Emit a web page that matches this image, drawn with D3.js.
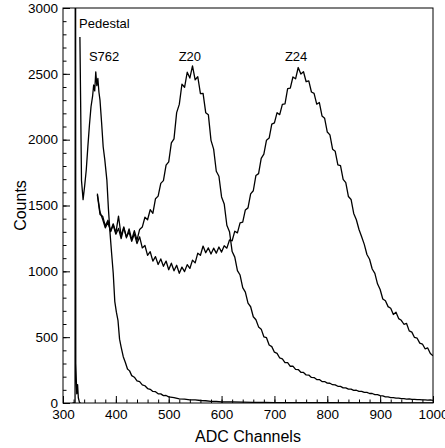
<!DOCTYPE html>
<html>
<head>
<meta charset="utf-8">
<script src="https://cdn.jsdelivr.net/npm/d3@7"></script>
<style>
  body { margin: 0; background: #fff; }
  svg { display: block; font-family: "Liberation Sans", Arial, Helvetica, sans-serif; }
</style>
</head>
<body>
<div id="chart"></div>
<script>
// pic du piedestal
const canauxPied = [318, 322.8, 323.5, 324.2, 326, 327.6, 329, 331, 333];
const comptesPied = [0, 0, 6000, 300, 70, 140, 40, 6, 0];

// S762 (canaux irreguliers)
const canauxS762 = [332, 335, 338, 341, 344, 347, 350, 353, 356, 358, 360, 362, 364, 366, 368, 370,
    373, 376, 379, 383, 386, 389, 392, 395, 398, 401, 404, 407, 410, 414, 418, 422, 426, 430, 435,
    440, 445, 450, 455, 460, 465, 470, 475, 480, 485, 490, 495, 500, 510, 520, 530, 540, 550, 560,
    570, 580, 590, 600, 620, 640, 660, 680, 700, 750, 800, 900, 1000];
const comptesS762 = [2780, 1690, 1545, 1650, 1770, 1945, 2110, 2250, 2330, 2415, 2370, 2515, 2410, 2465, 2360, 2300,
    2130, 1946, 1850, 1693, 1470, 1290, 1135, 987, 770, 690, 628, 485, 425, 352, 308, 258, 244, 208, 196,
    168, 162, 138, 131, 110, 104, 88, 86, 70, 69, 56, 57, 46, 41, 32, 30, 24, 23, 19,
    17, 13, 12, 9, 8, 6, 5, 4, 3, 2, 2, 1, 1];

// Z20 et Z24 : histogrammes a pas fixe
const premierCanal = 365;
const pasCanal = 5;
const comptesZ20 = [1590, 1450, 1395, 1330, 1372, 1305, 1361, 1292, 1420, 1268, 1338, 1255, 1322, 1240, 1309, 1236,
    1318, 1336, 1411, 1392, 1468, 1441, 1552, 1571, 1668, 1689, 1806, 1832, 1975, 2006, 2205, 2268,
    2421, 2398, 2512, 2468, 2560, 2455, 2478, 2350, 2352, 2205, 2190, 1995, 1928, 1760, 1722, 1565,
    1512, 1350, 1301, 1150, 1108, 1005, 972, 876, 842, 758, 731, 655, 632, 578, 561, 503,
    496, 440, 428, 386, 377, 342, 336, 307, 306, 279, 280, 256, 254, 233, 232, 213,
    212, 194, 193, 178, 178, 163, 163, 151, 150, 139, 138, 127, 126, 115, 115, 105,
    105, 96, 97, 88, 88, 80, 80, 72, 72, 64, 63, 56, 54, 47, 46, 41,
    41, 37, 37, 33, 33, 30, 31, 27, 28, 25, 26, 23, 24, 22, 23, 20];
const comptesZ24 = [1580, 1432, 1418, 1345, 1388, 1301, 1352, 1282, 1326, 1248, 1330, 1262, 1298, 1228, 1285, 1211,
    1262, 1178, 1196, 1121, 1149, 1078, 1112, 1052, 1094, 1038, 1078, 1012, 1062, 1004, 1046, 985,
    1032, 998, 1051, 1022, 1085, 1064, 1138, 1122, 1192, 1141, 1178, 1132, 1176, 1138, 1185, 1146,
    1194, 1176, 1238, 1232, 1305, 1292, 1368, 1374, 1466, 1482, 1588, 1612, 1728, 1742, 1858, 1890,
    1996, 2012, 2118, 2128, 2205, 2190, 2268, 2272, 2388, 2392, 2476, 2462, 2548, 2498, 2516, 2440,
    2446, 2362, 2352, 2270, 2282, 2180, 2162, 2058, 2036, 1928, 1912, 1808, 1802, 1698, 1674, 1568,
    1546, 1440, 1392, 1318, 1262, 1205, 1128, 1092, 1018, 984, 905, 862, 790, 776, 732, 720,
    672, 690, 641, 628, 598, 604, 548, 538, 498, 492, 455, 448, 412, 418, 376, 358];

// etiquettes des pics (canal, comptes)
const etiquettes = [
    {texte: "Pedestal", canal: 330.5, comptes: 2848, ancre: "start"},
    {texte: "S762", canal: 349, comptes: 2597, ancre: "start"},
    {texte: "Z20", canal: 540, comptes: 2597, ancre: "middle"},
    {texte: "Z24", canal: 741, comptes: 2600, ancre: "middle"}
];
const ticksY = [0, 500, 1000, 1500, 2000, 2500, 3000];
const ticksX = [300, 400, 500, 600, 700, 800, 900, 1000];

function dessiner() {
    const width = 445;
    const height = 448;
    const marginLeft = 63, marginRight = 12, marginTop = 8, marginBottom = 45;

    const x = d3.scaleLinear().domain([300, 1000]).range([marginLeft, width - marginRight]);
    const y = d3.scaleLinear().domain([0, 3000]).range([height - marginBottom, marginTop]);

    const svg = d3.select("#chart").append("svg")
        .attr("width", width)
        .attr("height", height);

    svg.append("clipPath").attr("id", "cadre")
        .append("rect")
        .attr("x", x(300)).attr("y", y(3000))
        .attr("width", x(1000) - x(300)).attr("height", y(0) - y(3000));

    const ligne = d3.line().x(d => x(d[0])).y(d => y(d[1]));

    const series = [
        canauxPied.map((c, i) => [c, comptesPied[i]]),
        canauxS762.map((c, i) => [c, comptesS762[i]]),
        comptesZ20.map((v, i) => [premierCanal + i * pasCanal, v]),
        comptesZ24.map((v, i) => [premierCanal + i * pasCanal, v])
    ];

    svg.append("g")
        .attr("clip-path", "url(#cadre)")
        .selectAll("path")
        .data(series)
        .join("path")
        .attr("d", ligne)
        .attr("fill", "none")
        .attr("stroke", "#000")
        .attr("stroke-width", 1.3)
        .attr("stroke-linejoin", "round");

    // graduations secondaires
    svg.append("g")
        .attr("transform", `translate(${marginLeft},0)`)
        .call(d3.axisLeft(y).ticks(30).tickSize(-3.5).tickFormat("").tickSizeOuter(0))
        .call(g => g.select(".domain").remove());
    svg.append("g")
        .attr("transform", `translate(0,${height - marginBottom})`)
        .call(d3.axisBottom(x).ticks(35).tickSize(-3.5).tickFormat("").tickSizeOuter(0))
        .call(g => g.select(".domain").remove());

    // axes principaux
    svg.append("g")
        .attr("transform", `translate(${marginLeft},0)`)
        .call(d3.axisLeft(y).tickValues(ticksY).tickFormat(d3.format("d")).tickSize(-7).tickPadding(5).tickSizeOuter(0))
        .call(g => g.select(".domain").remove())
        .call(g => g.selectAll("text").attr("font-size", 13.5).attr("fill", "#000"));
    svg.append("g")
        .attr("transform", `translate(0,${height - marginBottom})`)
        .call(d3.axisBottom(x).tickValues(ticksX).tickFormat(d3.format("d")).tickSize(-7).tickPadding(6).tickSizeOuter(0))
        .call(g => g.select(".domain").remove())
        .call(g => g.selectAll("text").attr("font-size", 13.5).attr("fill", "#000"));

    svg.selectAll(".tick line").attr("stroke", "#000");
    svg.selectAll(".tick text").attr("font-family", "Liberation Sans, Arial, sans-serif");

    // cadre
    svg.append("rect")
        .attr("x", x(300)).attr("y", y(3000))
        .attr("width", x(1000) - x(300)).attr("height", y(0) - y(3000))
        .attr("fill", "none")
        .attr("stroke", "#000")
        .attr("stroke-width", 1);

    // etiquettes des pics
    svg.append("g")
        .selectAll("text")
        .data(etiquettes)
        .join("text")
        .attr("x", d => x(d.canal))
        .attr("y", d => y(d.comptes))
        .attr("text-anchor", d => d.ancre)
        .attr("font-size", 13)
        .text(d => d.texte);

    // titres des axes
    svg.append("text")
        .attr("x", (x(300) + x(1000)) / 2)
        .attr("y", 442)
        .attr("text-anchor", "middle")
        .attr("font-size", 16)
        .text("ADC Channels");
    svg.append("text")
        .attr("transform", `translate(26,${(y(0) + y(3000)) / 2}) rotate(-90)`)
        .attr("text-anchor", "middle")
        .attr("font-size", 16)
        .text("Counts");
}

dessiner();
</script>
</body>
</html>
